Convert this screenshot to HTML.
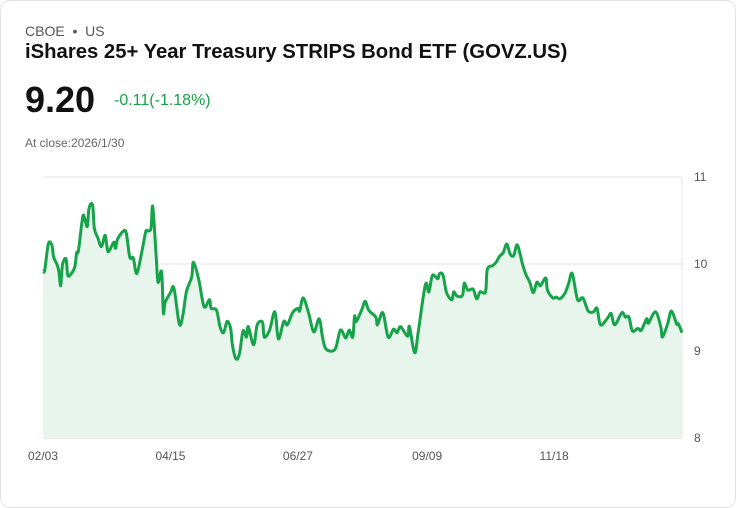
<!DOCTYPE html>
<html><head><meta charset="utf-8"><style>
body{margin:0;background:#fff;font-family:"Liberation Sans",sans-serif;}
.card{position:absolute;left:0;top:0;width:734px;height:506px;border:1px solid #e3e3e3;border-radius:10px;background:#fff;}
.t{position:absolute;white-space:nowrap;}
</style></head><body>
<div class="card"></div>
<div class="t" style="left:25px;top:23px;font-size:14px;color:#555">CBOE &nbsp;•&nbsp; US</div>
<div class="t" style="left:25px;top:41px;font-size:20.3px;font-weight:bold;color:#111">iShares 25+ Year Treasury STRIPS Bond ETF (GOVZ.US)</div>
<div class="t" style="left:25px;top:79px;font-size:36px;font-weight:bold;color:#111">9.20</div>
<div class="t" style="left:114px;top:92px;font-size:16px;color:#16a34a">-0.11(-1.18%)</div>
<div class="t" style="left:25px;top:136px;font-size:12px;color:#666">At close:2026/1/30</div>
<svg id="chart" width="736" height="508" style="position:absolute;left:0;top:0"></svg>
<script>
const days=[0,1,3,5,6,8,9,10,11,13,14,16,18,19,20,22,23,25,26,28,29,31,33,35,36,37,40,41,42,45,47,49,51,53,56,58,59,61,62,64,65,67,68,69,72,74,77,79,81,84,85,88,91,94,95,98,100,102,104,106,107,109,111,113,115,116,119,121,124,125,128,131,133,136,138,141,144,145,147,150,153,156,158,160,165,168,171,173,175,176,177,180,182,184,188,189,192,195,198,200,202,206,207,210,212,216,218,220,223,224,226,228,231,232,234,237,238,240,243,245,247,250,251,254,256,258,260,262,264,266,268,271,273,275,277,279,281,284,285,288,290,292,295,297,299,302,305,308,311,313,315,319,321,323,327,329,331,333,336,338,341,342,346,349,350,353,355,358,359,361];
const prices=[9.92,9.93,10.23,10.22,10.08,9.99,9.91,9.75,9.99,10.06,9.87,9.89,9.97,10.13,10.15,10.48,10.56,10.43,10.64,10.68,10.41,10.30,10.20,10.33,10.22,10.14,10.25,10.18,10.28,10.37,10.36,10.08,10.07,9.89,10.16,10.37,10.38,10.41,10.66,10.07,9.79,9.91,9.44,9.56,9.67,9.72,9.31,9.41,9.68,9.85,10.02,9.82,9.51,9.59,9.49,9.47,9.28,9.21,9.34,9.26,9.07,8.91,8.97,9.23,9.16,9.28,9.07,9.30,9.33,9.16,9.24,9.45,9.14,9.34,9.30,9.44,9.49,9.46,9.61,9.44,9.22,9.37,9.15,9.02,9.02,9.24,9.15,9.24,9.16,9.40,9.34,9.47,9.57,9.47,9.39,9.30,9.44,9.16,9.25,9.21,9.28,9.17,9.28,8.98,9.22,9.76,9.68,9.87,9.83,9.89,9.87,9.67,9.59,9.68,9.63,9.64,9.78,9.70,9.71,9.60,9.68,9.68,9.94,9.98,10.02,10.09,10.13,10.23,10.11,10.10,10.22,9.99,9.87,9.79,9.67,9.79,9.75,9.84,9.70,9.61,9.62,9.60,9.67,9.78,9.89,9.59,9.61,9.46,9.45,9.49,9.30,9.38,9.43,9.30,9.44,9.39,9.39,9.23,9.26,9.24,9.37,9.32,9.45,9.28,9.16,9.32,9.46,9.31,9.31,9.21];
const yTicks=[8,9,10,11];
const xTickLabels=["02/03","04/15","06/27","09/09","11/18"];
const xTickDays=[0,72,144,217,289];
const NS="http://www.w3.org/2000/svg",svg=document.getElementById('chart');
const X0=43,X1=682,Y0=438,Y1=177,D=361;
const xs=d=>X0+(X1-X0)*d/D, ys=v=>Y0-(Y0-Y1)*(v-8)/3;
function mk(t,a){const e=document.createElementNS(NS,t);for(const k in a)e.setAttribute(k,a[k]);svg.appendChild(e);return e;}
yTicks.forEach(v=>{
 const l=mk('line',{x1:X0,x2:X1,y1:ys(v),y2:ys(v),stroke:v==8?'#cfcfcf':'#e4e4e4','stroke-width':1});
 
 
 const t=mk('text',{x:694,y:ys(v)+4,'font-size':12,fill:'#555'});t.textContent=v;
 
 
});
const vl=mk('line',{x1:X1,x2:X1,y1:Y1,y2:Y0,stroke:'#e4e4e4'});


xTickLabels.forEach((s,i)=>{
 const t=mk('text',{x:xs(xTickDays[i])-15,y:460,'font-size':12,fill:'#555'});t.textContent=s;
 
 
});
const P=days.map((d,i)=>[xs(d),ys(prices[i])]);
let d='M'+P[0][0]+','+P[0][1];
for(let i=0;i<P.length-1;i++){const p0=P[Math.max(0,i-1)],p1=P[i],p2=P[i+1],p3=P[Math.min(P.length-1,i+2)];
 d+=' C'+(p1[0]+(p2[0]-p0[0])/6)+','+(p1[1]+(p2[1]-p0[1])/6)+' '+(p2[0]-(p3[0]-p1[0])/6)+','+(p2[1]-(p3[1]-p1[1])/6)+' '+p2[0]+','+p2[1];}
const area=mk('path',{d:d+' L'+P[P.length-1][0]+','+Y0+' L'+P[0][0]+','+Y0+' Z',fill:'#e7f5ec'});


const line=mk('path',{d:d,fill:'none',stroke:'#16a34a','stroke-width':3,'stroke-linejoin':'round'});


</script>
</body></html>
